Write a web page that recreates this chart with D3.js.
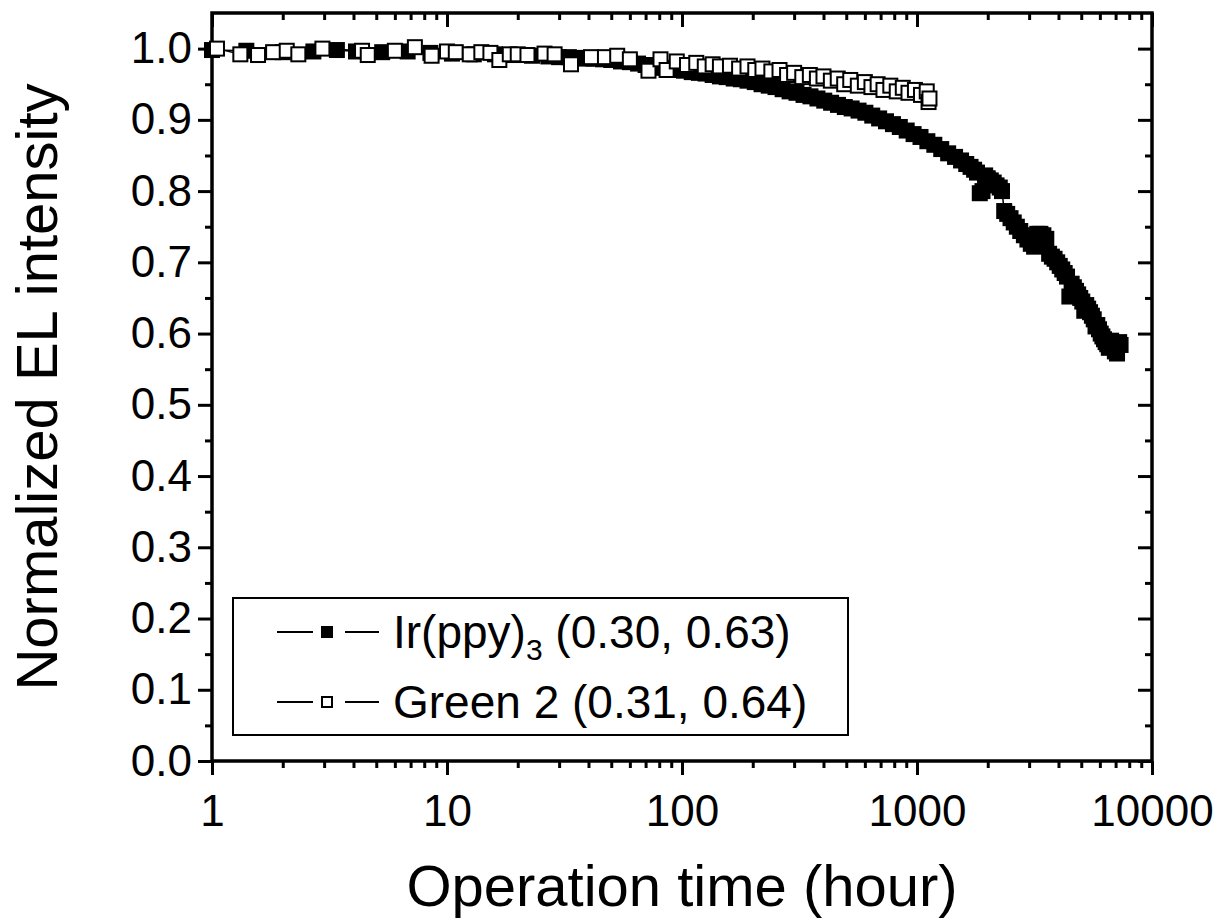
<!DOCTYPE html>
<html>
<head>
<meta charset="utf-8">
<script src="https://cdn.jsdelivr.net/npm/d3@7"></script>
<style>
  body { margin: 0; background: #fff; }
  text { font-family: "Liberation Sans", Arial, sans-serif; fill: #000; }
</style>
</head>
<body>
<script>
// [hours, normalized EL]
const irppyData = [
  [1, 0.998], [1.4, 0.997], [2.0, 0.995], [2.7, 0.996], [3.4, 0.998], [4.1, 0.996], [5.3, 0.995],
  [6.8, 0.996], [8.5, 0.994], [10.5, 0.993], [13, 0.992], [16, 0.992], [19, 0.991], [23, 0.990],
  [27, 0.989], [30, 0.988], [33, 0.988], [36, 0.987], [39, 0.986], [42, 0.986], [46, 0.985],
  [50, 0.984], [55, 0.982], [60, 0.981], [65, 0.979], [70, 0.977], [76, 0.975], [82, 0.973],
  [88, 0.972], [95, 0.970], [102, 0.969], [110, 0.967], [118, 0.966], [126, 0.965], [135, 0.963],
  [145, 0.961], [155, 0.960], [166, 0.958], [178, 0.957], [190, 0.955], [204, 0.953], [218, 0.950],
  [234, 0.948], [250, 0.946], [268, 0.943], [287, 0.940], [307, 0.938], [329, 0.935], [352, 0.933],
  [377, 0.930], [403, 0.927], [431, 0.924], [461, 0.921], [493, 0.918], [527, 0.916], [564, 0.913],
  [603, 0.910], [645, 0.906], [690, 0.902], [738, 0.898], [790, 0.894], [845, 0.890], [904, 0.885],
  [967, 0.880], [1035, 0.876], [1107, 0.870], [1185, 0.865], [1268, 0.859], [1357, 0.853],
  [1452, 0.848], [1540, 0.843], [1620, 0.838], [1690, 0.834], [1750, 0.830], [1800, 0.826],
  [1850, 0.797], [1900, 0.800], [1950, 0.822], [2000, 0.818], [2060, 0.815], [2120, 0.812],
  [2180, 0.808], [2250, 0.805], [2300, 0.800], [2350, 0.772], [2420, 0.768], [2500, 0.762],
  [2580, 0.756], [2660, 0.750], [2750, 0.744], [2850, 0.738], [2950, 0.732], [3050, 0.726],
  [3150, 0.722], [3250, 0.740], [3350, 0.740], [3450, 0.738], [3550, 0.733], [3650, 0.712],
  [3750, 0.708], [3850, 0.705], [3950, 0.700], [4050, 0.695], [4150, 0.690], [4250, 0.685],
  [4350, 0.680], [4450, 0.652], [4550, 0.670], [4650, 0.665], [4750, 0.660], [4850, 0.655],
  [4950, 0.650], [5050, 0.645], [5150, 0.632], [5250, 0.640], [5350, 0.635], [5450, 0.630],
  [5550, 0.625], [5650, 0.620], [5750, 0.610], [5850, 0.612], [5950, 0.606], [6050, 0.600],
  [6150, 0.596], [6250, 0.592], [6350, 0.588], [6450, 0.585], [6550, 0.580], [6700, 0.590],
  [6850, 0.585], [6950, 0.575], [7100, 0.572], [7250, 0.588], [7350, 0.584]
];

const green2Data = [
  [1.05, 1.000], [1.32, 0.992], [1.57, 0.991], [1.82, 0.995], [2.08, 0.997], [2.33, 0.992],
  [2.95, 1.000], [4.35, 0.997], [4.6, 0.991], [6.0, 0.997], [7.3, 1.002], [8.6, 0.990],
  [10.0, 0.996], [10.9, 0.995], [12.5, 0.992], [14.0, 0.995], [15.3, 0.994], [16.7, 0.984],
  [18.5, 0.992], [20.0, 0.992], [22.0, 0.991], [26.0, 0.993], [28.7, 0.992], [33.7, 0.978],
  [41, 0.988], [47, 0.988], [53, 0.990], [60, 0.985], [72, 0.969], [81, 0.985], [86, 0.970],
  [95, 0.982], [105, 0.977], [115, 0.980], [125, 0.975], [135, 0.978], [145, 0.975], [160, 0.976],
  [175, 0.972], [190, 0.975], [205, 0.970], [220, 0.972], [240, 0.968], [260, 0.970], [280, 0.963],
  [300, 0.966], [325, 0.960], [350, 0.963], [375, 0.958], [400, 0.961], [430, 0.955], [460, 0.958],
  [490, 0.950], [520, 0.956], [560, 0.948], [600, 0.953], [640, 0.946], [680, 0.950], [720, 0.942],
  [770, 0.948], [820, 0.940], [870, 0.945], [920, 0.938], [980, 0.942], [1040, 0.935],
  [1100, 0.940], [1120, 0.925], [1130, 0.930]
];

const xTickValues = [1, 10, 100, 1000, 10000];
const yTickValues = [0, 0.1, 0.2, 0.3, 0.4, 0.5, 0.6, 0.7, 0.8, 0.9, 1.0];
const legendNames = ['Ir(ppy)', 'Green 2 (0.31, 0.64)'];

let width = 1226;
let height = 920;

let svg = d3.select('body').append('svg').attr('width', width).attr('height', height);

let x = d3.scaleLog().domain([1, 10000]).range([212, 1152]);
let y = d3.scaleLinear().domain([0, 1.05]).range([761, 13]);

let minorX = x.ticks().filter(d => !xTickValues.includes(d));
let minorY = d3.range(0.05, 1.05, 0.1);

function styleAxis(g) {
  g.select('.domain').remove();
  g.selectAll('line').attr('stroke', '#000').attr('stroke-width', 3);
  g.selectAll('text').attr('font-size', 44).attr('fill', '#000');
}

// bottom
svg.append('g').attr('transform', 'translate(0,761)')
  .call(d3.axisBottom(x).tickValues(xTickValues).tickFormat(d3.format('d')).tickSize(14).tickPadding(20))
  .call(styleAxis);
svg.append('g').attr('transform', 'translate(0,761)')
  .call(d3.axisBottom(x).tickValues(minorX).tickFormat('').tickSize(7))
  .call(styleAxis);
// top (ticks inward)
svg.append('g').attr('transform', 'translate(0,13)')
  .call(d3.axisBottom(x).tickValues(xTickValues).tickFormat('').tickSize(14))
  .call(styleAxis);
svg.append('g').attr('transform', 'translate(0,13)')
  .call(d3.axisBottom(x).tickValues(minorX).tickFormat('').tickSize(7))
  .call(styleAxis);
// left
svg.append('g').attr('transform', 'translate(212,0)')
  .call(d3.axisLeft(y).tickValues(yTickValues).tickFormat(d3.format('.1f')).tickSize(14).tickPadding(6))
  .call(styleAxis);
svg.append('g').attr('transform', 'translate(212,0)')
  .call(d3.axisLeft(y).tickValues(minorY).tickFormat('').tickSize(7))
  .call(styleAxis);
// right (ticks inward)
svg.append('g').attr('transform', 'translate(1152,0)')
  .call(d3.axisLeft(y).tickValues(yTickValues).tickFormat('').tickSize(14))
  .call(styleAxis);
svg.append('g').attr('transform', 'translate(1152,0)')
  .call(d3.axisLeft(y).tickValues(minorY).tickFormat('').tickSize(7))
  .call(styleAxis);

svg.append('rect')
  .attr('x', 212).attr('y', 13)
  .attr('width', 940).attr('height', 748)
  .attr('fill', 'none').attr('stroke', '#000').attr('stroke-width', 3.5);

let line = d3.line().x(d => x(d[0])).y(d => y(d[1]));
let size = 14;

function drawSeries(data, fill) {
  svg.append('path')
    .datum(data)
    .attr('d', line)
    .attr('fill', 'none')
    .attr('stroke', '#000')
    .attr('stroke-width', 1.5);
  svg.append('g').selectAll('rect')
    .data(data)
    .enter()
      .append('rect')
      .attr('x', d => x(d[0]) - size / 2)
      .attr('y', d => y(d[1]) - size / 2)
      .attr('width', size)
      .attr('height', size)
      .attr('fill', fill)
      .attr('stroke', '#000')
      .attr('stroke-width', 2);
}

drawSeries(irppyData, '#000');
drawSeries(green2Data, '#fff');

// legend
let legend = svg.append('g');
legend.append('rect')
  .attr('x', 233).attr('y', 598).attr('width', 615).attr('height', 137)
  .attr('fill', '#fff').attr('stroke', '#000').attr('stroke-width', 2);

let rows = legend.selectAll('g.row')
  .data(legendNames)
  .enter()
    .append('g')
    .attr('class', 'row')
    .attr('transform', (d, i) => `translate(0,${632 + i * 70})`);

rows.append('line').attr('x1', 277).attr('x2', 313).attr('y1', 0).attr('y2', 0)
  .attr('stroke', '#000').attr('stroke-width', 2);
rows.append('line').attr('x1', 345).attr('x2', 379).attr('y1', 0).attr('y2', 0)
  .attr('stroke', '#000').attr('stroke-width', 2);
rows.append('rect')
  .attr('x', 322).attr('y', -5).attr('width', 10).attr('height', 10)
  .attr('fill', (d, i) => i == 0 ? '#000' : '#fff')
  .attr('stroke', '#000').attr('stroke-width', 2);

let labels = rows.append('text')
  .attr('x', 393).attr('y', 16)
  .attr('font-size', 46);
labels.append('tspan').text(d => d);
labels.filter((d, i) => i == 0).append('tspan')
  .attr('font-size', 30).attr('dy', 12).text('3');
labels.filter((d, i) => i == 0).append('tspan')
  .attr('dy', -12).text(' (0.30, 0.63)');

// axis titles
svg.append('text')
  .attr('x', 682).attr('y', 906)
  .attr('text-anchor', 'middle')
  .attr('font-size', 58)
  .text('Operation time (hour)');

svg.append('text')
  .attr('transform', 'translate(57,387) rotate(-90)')
  .attr('text-anchor', 'middle')
  .attr('font-size', 58)
  .text('Normalized EL intensity');
</script>
</body>
</html>
